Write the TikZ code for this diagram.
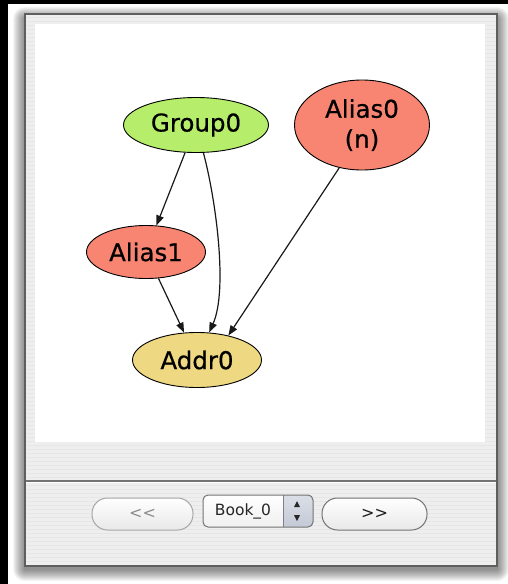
\documentclass[tikz,border=0pt]{standalone}
\usepackage{fontspec}
\setmainfont{DejaVu Sans}
\newfontfamily\nodefont[FakeBold=0.6]{DejaVu Sans}
\usetikzlibrary{shapes.geometric,arrows.meta}
\definecolor{grpgreen}{HTML}{B6EE6C}
\definecolor{aliasred}{HTML}{F88472}
\definecolor{addryel}{HTML}{EED982}
\definecolor{winbg}{HTML}{EEEEEE}
\definecolor{stripe}{HTML}{E6E6E6}
\definecolor{frameline}{HTML}{5E5E5E}
\definecolor{stepcol}{HTML}{C3C9D6}
\tikzset{
  gnode/.style={ellipse, draw=black, line width=0.9pt, inner sep=0pt,
    font=\nodefont\fontsize{24.5}{30}\selectfont, text=black},
  edge/.style={draw=black!90, line width=1.2pt, -{Triangle[length=10pt,width=7.5pt]}},
  btn/.style={draw=#1, line width=1pt, rounded corners=15.5pt, top color=white,
    bottom color=black!9, inner sep=0pt, minimum height=32pt,
    font=\fontsize{16}{18}\selectfont},
}
\begin{document}
\begin{tikzpicture}[x=1pt,y=-1pt]
\useasboundingbox (0,0) rectangle (508,584);
\fill[white] (0,0) rectangle (508,584);
% window shadow
\foreach \i in {12,11,...,1}
  \fill[black, opacity=0.045, rounded corners=\i pt] (25-\i,14-\i+5) rectangle (497+\i,566+\i+3);
\fill[black] (0,0) rectangle (508,4);
\fill[black] (0,0) rectangle (8,584);
% window
\fill[winbg] (25,14) rectangle (497,566);
\foreach \y in {17,21,...,563}
  \draw[stripe, line width=1pt] (26,\y) -- (496,\y);
\draw[frameline, line width=1.4pt] (25,14) rectangle (497,566);
% canvas
\fill[white] (35,24) rectangle (485,442);
% separator
\draw[black!55, line width=1.4pt] (26,481) -- (496,481);
\draw[white, line width=1pt] (26,482.6) -- (496,482.6);

% graph
\node[gnode, fill=grpgreen, minimum width=145pt, minimum height=55pt] (g0) at (196,125) {Group0};
\node[gnode, fill=aliasred, minimum width=135pt, minimum height=90pt, align=center] (a0) at (362,125) {Alias0\\(n)};
\node[gnode, fill=aliasred, minimum width=119pt, minimum height=53pt] (a1) at (146,252) {Alias1};
\node[gnode, fill=addryel, minimum width=129pt, minimum height=55pt] (ad) at (197,360) {Addr0};

\draw[edge] (g0) -- (a1);
\draw[edge] (g0) .. controls (216,200) and (228,290) .. (ad);
\draw[edge] (a1) -- (ad);
\draw[edge] (a0.-118) -- (ad.38);

% buttons
\node[btn=black!35, minimum width=101pt, text=black!45] (prev) at (142.5,514) {<{}<};
\node[btn=black!55, minimum width=105pt, text=black!90] (next) at (374.5,514) {>{}>};
% popup
\begin{scope}
  \clip[rounded corners=5pt] (203,495) rectangle (313,527);
  \shade[top color=white, bottom color=black!6] (203,495) rectangle (313,527);
  \shade[top color=stepcol!60, bottom color=stepcol] (283,495) rectangle (313,527);
\end{scope}
\draw[black!50, line width=0.6pt] (283,495) -- (283,527);
\draw[black!55, line width=1pt, rounded corners=5pt] (203,495) rectangle (313,527);
\node[font=\fontsize{15.5}{18}\selectfont, text=black!85] (book) at (243,511) {Book\_0};
\fill[black!85] (297,501) -- (300,507) -- (294,507) -- cycle;
\fill[black!85] (297,521) -- (300,515) -- (294,515) -- cycle;
\end{tikzpicture}
\end{document}
